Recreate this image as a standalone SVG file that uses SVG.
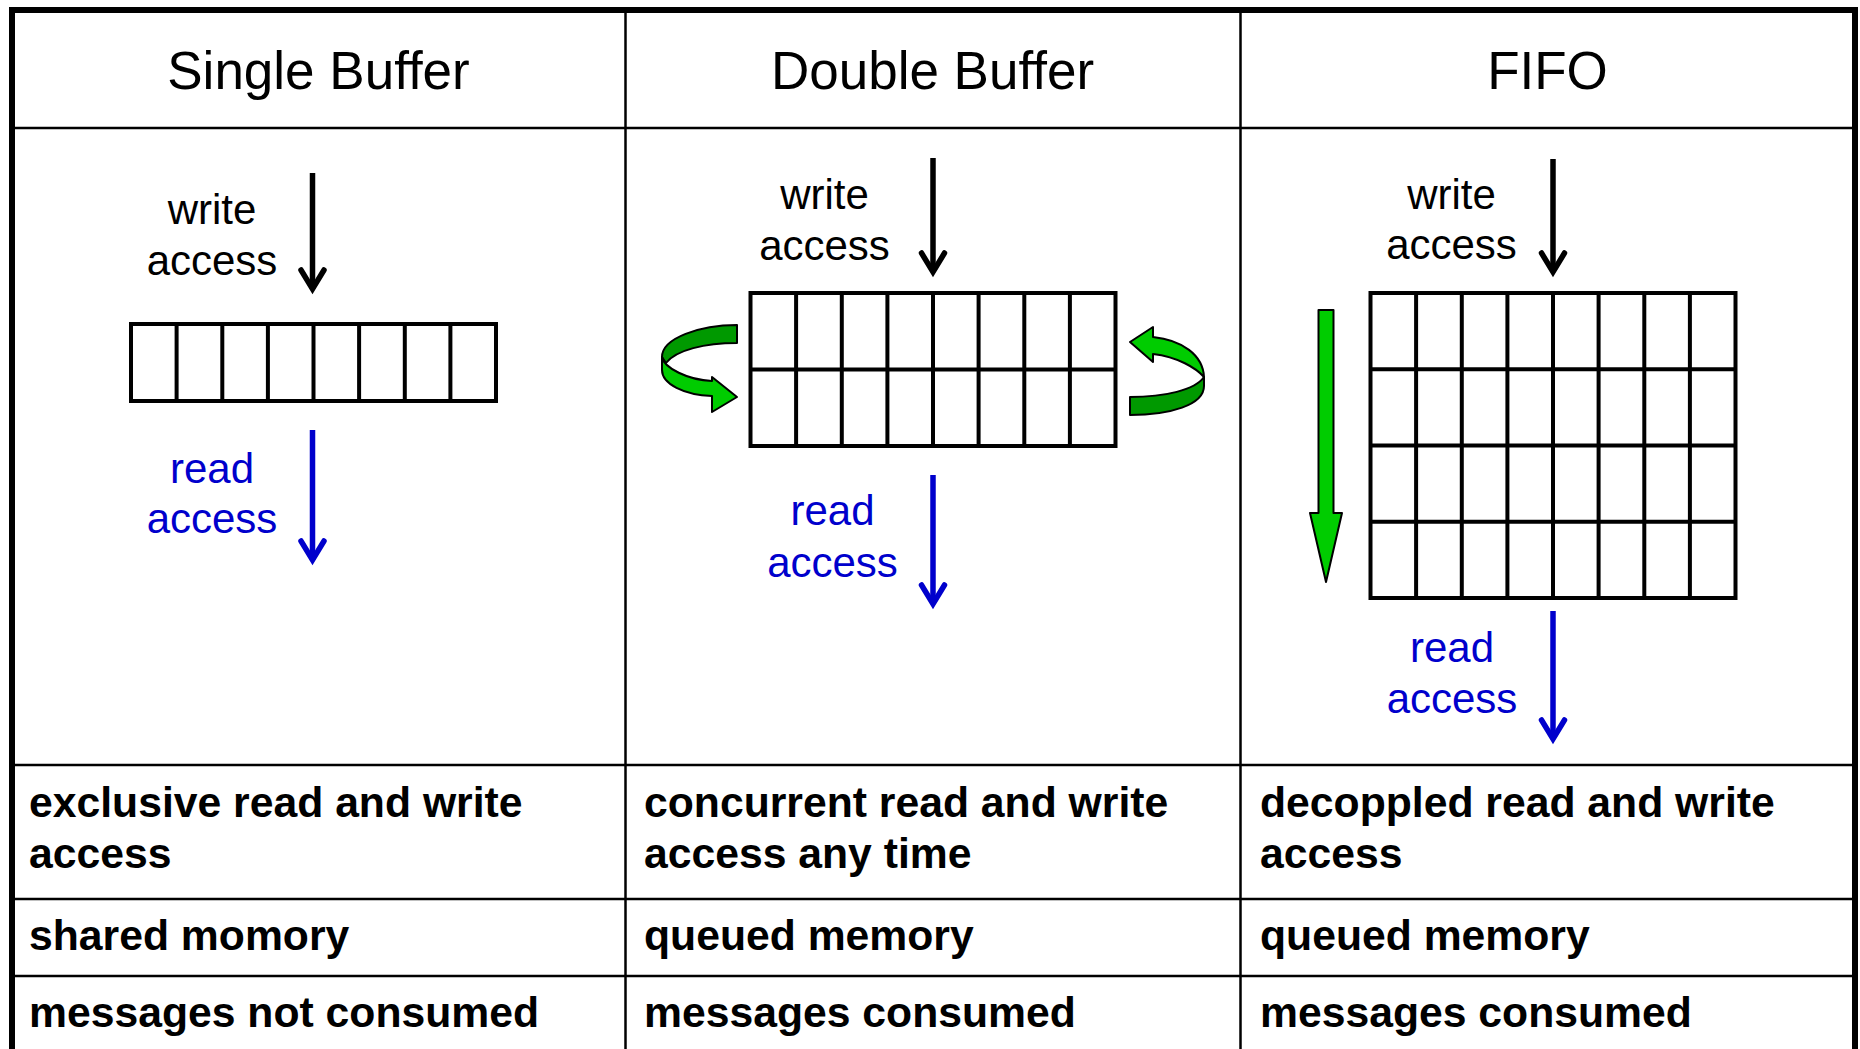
<svg xmlns="http://www.w3.org/2000/svg" width="1860" height="1049" viewBox="0 0 1860 1049">
<style>
.title{font-family:"Liberation Sans",Arial,sans-serif;font-size:53px;fill:#000;text-anchor:middle}
.lbl{font-family:"Liberation Sans",Arial,sans-serif;font-size:42px;text-anchor:middle}
.w{fill:#000}
.r{fill:#0000CC}
.cell{font-family:"Liberation Sans",Arial,sans-serif;font-size:42.7px;font-weight:bold;fill:#000}
.tline{stroke:#000;stroke-width:2.5;fill:none}
.grid{stroke:#000;stroke-width:4;fill:#fff}
.gl{stroke:#000;stroke-width:4}
.arrW{stroke:#000;stroke-width:5.5;fill:none;stroke-linecap:butt}
.arrR{stroke:#0000CC;stroke-width:5.5;fill:none;stroke-linecap:butt}
.head{stroke-linejoin:miter;stroke-linecap:round;stroke-miterlimit:10}
.gf{fill:#00CC00;stroke:#000;stroke-width:2;stroke-linejoin:round}
.gd{fill:#009900;stroke:#000;stroke-width:2;stroke-linejoin:round}
</style>
<rect width="1860" height="1049" fill="#fff"/>
<g id="table">
<rect x="12" y="10" width="1843" height="1060" fill="none" stroke="#000" stroke-width="6"/>
<line class="tline" x1="625.5" y1="10" x2="625.5" y2="1049"/>
<line class="tline" x1="1240.5" y1="10" x2="1240.5" y2="1049"/>
<line class="tline" x1="12" y1="128" x2="1855" y2="128"/>
<line class="tline" x1="12" y1="765" x2="1855" y2="765"/>
<line class="tline" x1="12" y1="899" x2="1855" y2="899"/>
<line class="tline" x1="12" y1="976" x2="1855" y2="976"/>
</g>
<g id="headers">
<text class="title" x="318.5" y="89">Single Buffer</text>
<text class="title" x="932.5" y="89">Double Buffer</text>
<text class="title" x="1547.5" y="89">FIFO</text>
</g>
<g id="single-buffer">
<rect class="grid" x="131" y="324" width="365" height="77"/>
<g class="gl">
<line x1="176.6" y1="324" x2="176.6" y2="401"/><line x1="222.3" y1="324" x2="222.3" y2="401"/>
<line x1="267.9" y1="324" x2="267.9" y2="401"/><line x1="313.5" y1="324" x2="313.5" y2="401"/>
<line x1="359.1" y1="324" x2="359.1" y2="401"/><line x1="404.8" y1="324" x2="404.8" y2="401"/>
<line x1="450.4" y1="324" x2="450.4" y2="401"/>
</g>
<text class="lbl w" x="212" y="224">write</text>
<text class="lbl w" x="212" y="275">access</text>
<text class="lbl r" x="212" y="483">read</text>
<text class="lbl r" x="212" y="533">access</text>
</g>
<g id="double-buffer">
<rect class="grid" x="750.5" y="293" width="365" height="153"/>
<g class="gl">
<line x1="750.5" y1="369.5" x2="1115.5" y2="369.5"/>
<line x1="796.1" y1="293" x2="796.1" y2="446"/><line x1="841.8" y1="293" x2="841.8" y2="446"/>
<line x1="887.4" y1="293" x2="887.4" y2="446"/><line x1="933" y1="293" x2="933" y2="446"/>
<line x1="978.6" y1="293" x2="978.6" y2="446"/><line x1="1024.3" y1="293" x2="1024.3" y2="446"/>
<line x1="1069.9" y1="293" x2="1069.9" y2="446"/>
</g>
<text class="lbl w" x="824.5" y="209">write</text>
<text class="lbl w" x="824.5" y="260">access</text>
<text class="lbl r" x="832.5" y="525">read</text>
<text class="lbl r" x="832.5" y="577">access</text>
<path class="gd" d="M737,325 L737,343 C705,343 676,350 666,363 L662,357 C662,338 700,325 737,325 Z"/>
<path class="gf" d="M662,357 C664,368 688,380 712,381 L712,377 L737,397 L712,412 L712,396 C684,395 662,384 662,370 Z"/>
<path class="gf" d="M1153,337 C1182,340 1203,355 1204,377 C1196,368 1178,357 1153,354 L1153,362 L1130,342 L1153,327 Z"/>
<path class="gd" d="M1130,397 C1165,397 1195,390 1204,377 L1204,386 C1204,405 1170,415 1130,415 Z"/>
</g>
<g id="fifo">
<rect class="grid" x="1370.5" y="293" width="365" height="305"/>
<g class="gl">
<line x1="1370.5" y1="369.2" x2="1735.5" y2="369.2"/>
<line x1="1370.5" y1="445.5" x2="1735.5" y2="445.5"/>
<line x1="1370.5" y1="521.8" x2="1735.5" y2="521.8"/>
<line x1="1416.1" y1="293" x2="1416.1" y2="598"/><line x1="1461.8" y1="293" x2="1461.8" y2="598"/>
<line x1="1507.4" y1="293" x2="1507.4" y2="598"/><line x1="1553" y1="293" x2="1553" y2="598"/>
<line x1="1598.6" y1="293" x2="1598.6" y2="598"/><line x1="1644.3" y1="293" x2="1644.3" y2="598"/>
<line x1="1689.9" y1="293" x2="1689.9" y2="598"/>
</g>
<text class="lbl w" x="1451.5" y="209">write</text>
<text class="lbl w" x="1451.5" y="259">access</text>
<text class="lbl r" x="1452" y="662">read</text>
<text class="lbl r" x="1452" y="713">access</text>
<path class="gf" d="M1318.5,310 L1333.5,310 L1333.5,513 L1342,513 L1326,582 L1310,513 L1318.5,513 Z"/>
</g>
<g id="connectors">
<path class="arrW" d="M312.5,173 V289"/>
<path class="arrW head" d="M301,270 L312.5,289 L324,270"/>
<path class="arrR" d="M312.5,430 V560"/>
<path class="arrR head" d="M301,541 L312.5,560 L324,541"/>
<path class="arrW" d="M933,158 V272"/>
<path class="arrW head" d="M921.5,253 L933,272 L944.5,253"/>
<path class="arrR" d="M933,475 V604"/>
<path class="arrR head" d="M921.5,585 L933,604 L944.5,585"/>
<path class="arrW" d="M1553,159 V272"/>
<path class="arrW head" d="M1541.5,253 L1553,272 L1564.5,253"/>
<path class="arrR" d="M1553,611 V739"/>
<path class="arrR head" d="M1541.5,720 L1553,739 L1564.5,720"/>
</g>
<g id="properties">
<text class="cell" x="29" y="817">exclusive read and write</text>
<text class="cell" x="29" y="868">access</text>
<text class="cell" x="29" y="950">shared momory</text>
<text class="cell" x="29" y="1027">messages not consumed</text>
<text class="cell" x="644" y="817">concurrent read and write</text>
<text class="cell" x="644" y="868">access any time</text>
<text class="cell" x="644" y="950">queued memory</text>
<text class="cell" x="644" y="1027">messages consumed</text>
<text class="cell" x="1260" y="817">decoppled read and write</text>
<text class="cell" x="1260" y="868">access</text>
<text class="cell" x="1260" y="950">queued memory</text>
<text class="cell" x="1260" y="1027">messages consumed</text>
</g>
</svg>
